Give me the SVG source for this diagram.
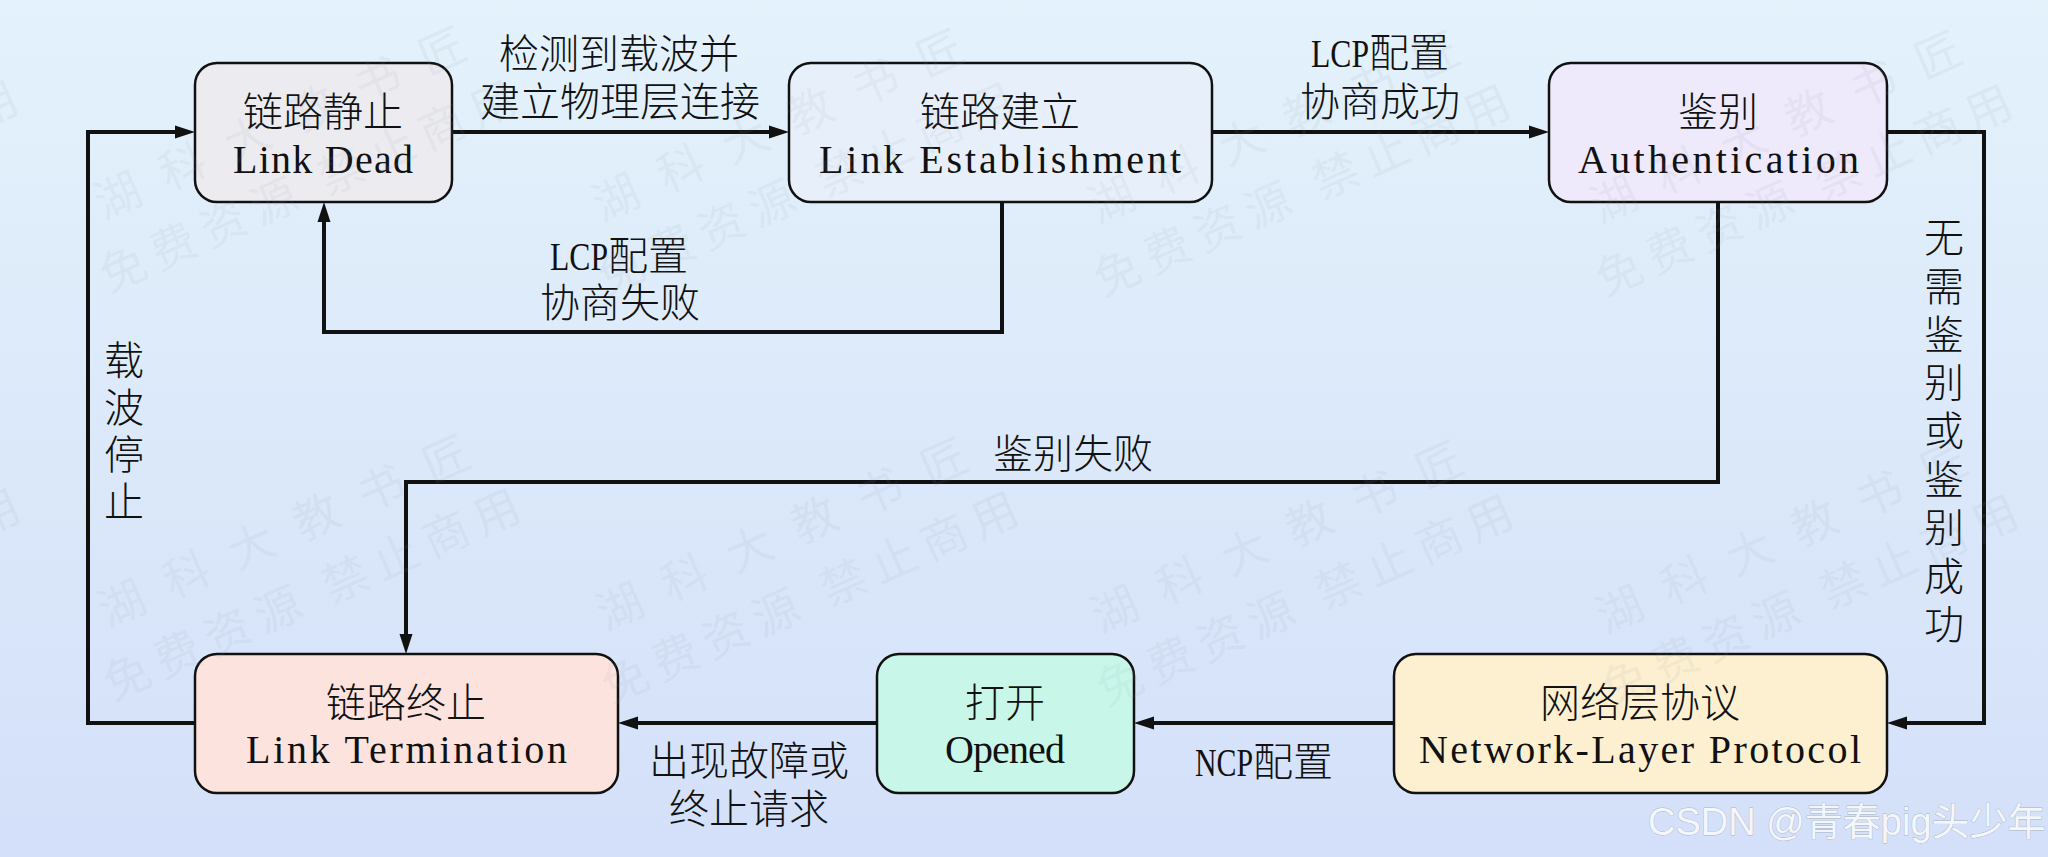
<svg xmlns="http://www.w3.org/2000/svg" xmlns:xlink="http://www.w3.org/1999/xlink" width="2048" height="857" viewBox="0 0 2048 857">
  <defs>
    <linearGradient id="bg" x1="0" y1="0" x2="0" y2="1">
      <stop offset="0" stop-color="#e3f2fb"/>
      <stop offset="1" stop-color="#d4e0f9"/>
    </linearGradient>
    <marker id="arr" markerWidth="20" markerHeight="14" refX="10" refY="7" orient="auto" markerUnits="userSpaceOnUse" viewBox="0 0 20 14">
      <path d="M0,0.5 L20,7 L0,13.5 Z" fill="#111"/>
    </marker>
    <g id="wmark" transform="rotate(-24)">
      <text class="wm" x="-23" y="16" letter-spacing="25">湖科大教书匠</text>
      <text class="wm" x="-48" y="85" letter-spacing="9">免费资源 禁止商用</text>
    </g>
  </defs>
  <style>
    .node rect { stroke: #111; stroke-width: 2.5; }
    .cn { font-family: "Noto Sans CJK SC", "Noto Sans", sans-serif; font-size: 40px; font-weight: 300; fill: #111; }
    .en { font-family: "Liberation Serif", "DejaVu Serif", serif; font-size: 40px; fill: #111; }
    .edge { fill: none; stroke: #111; stroke-width: 4; stroke-linejoin: miter; }
    .wm { font-family: "Noto Sans CJK SC", sans-serif; font-size: 46px; fill: #8f9aa8; fill-opacity: 0.11; }
    .csdn { font-family: "Liberation Sans", "Noto Sans CJK SC", sans-serif; font-size: 38px; fill: #f3f6fb; stroke: #a9b3c2; stroke-width: 0.8; paint-order: stroke; }
  </style>

  <rect x="0" y="0" width="2048" height="857" fill="url(#bg)"/>

  <g id="connectors">
    <path class="edge" d="M452,132 H779" marker-end="url(#arr)"/>
    <path class="edge" d="M1212,132 H1539" marker-end="url(#arr)"/>
    <path class="edge" d="M1002,202 V332 H324 V212" marker-end="url(#arr)"/>
    <path class="edge" d="M1887,132 H1984 V723 H1897" marker-end="url(#arr)"/>
    <path class="edge" d="M1718,202 V482 H406 V644" marker-end="url(#arr)"/>
    <path class="edge" d="M1394,723 H1144" marker-end="url(#arr)"/>
    <path class="edge" d="M877,723 H628" marker-end="url(#arr)"/>
    <path class="edge" d="M195,723 H88 V132 H185" marker-end="url(#arr)"/>
  </g>

  <g id="edge-labels">
    <text class="cn" x="619" y="68" text-anchor="middle">检测到载波并</text>
    <text class="cn" x="620" y="116" text-anchor="middle">建立物理层连接</text>

    <text class="en" x="1311" y="67" textLength="58" lengthAdjust="spacingAndGlyphs" font-size="44">LCP</text>
    <text class="cn" x="1369" y="67">配置</text>
    <text class="cn" x="1380" y="116" text-anchor="middle">协商成功</text>

    <text class="en" x="550" y="270" textLength="58" lengthAdjust="spacingAndGlyphs" font-size="44">LCP</text>
    <text class="cn" x="608" y="270">配置</text>
    <text class="cn" x="620" y="317" text-anchor="middle">协商失败</text>

    <text class="cn" x="1073" y="468" text-anchor="middle">鉴别失败</text>

    <text class="cn" text-anchor="middle"><tspan x="124" y="375">载</tspan><tspan x="124" y="422">波</tspan><tspan x="124" y="469">停</tspan><tspan x="124" y="516">止</tspan></text>

    <text class="cn" text-anchor="middle"><tspan x="1944" y="252">无</tspan><tspan x="1944" y="301">需</tspan><tspan x="1944" y="349">鉴</tspan><tspan x="1944" y="397">别</tspan><tspan x="1944" y="445">或</tspan><tspan x="1944" y="494">鉴</tspan><tspan x="1944" y="542">别</tspan><tspan x="1944" y="591">成</tspan><tspan x="1944" y="639">功</tspan></text>

    <text class="cn" x="749" y="775" text-anchor="middle">出现故障或</text>
    <text class="cn" x="749" y="823" text-anchor="middle">终止请求</text>

    <text class="en" x="1195" y="776" textLength="58" lengthAdjust="spacingAndGlyphs" font-size="44">NCP</text>
    <text class="cn" x="1253" y="776">配置</text>
  </g>

  <g id="node-link-dead" class="node">
    <rect x="195" y="63" width="257" height="139" rx="22" fill="#ececf0"/>
    <text class="cn" x="323" y="126" text-anchor="middle">链路静止</text>
    <text class="en" x="233" y="173" textLength="180" lengthAdjust="spacing">Link Dead</text>
  </g>

  <g id="node-link-establishment" class="node">
    <rect x="789" y="63" width="423" height="139" rx="22" fill="#e7f0fa"/>
    <text class="cn" x="1000" y="126" text-anchor="middle">链路建立</text>
    <text class="en" x="819" y="173" textLength="362" lengthAdjust="spacing">Link Establishment</text>
  </g>

  <g id="node-authentication" class="node">
    <rect x="1549" y="63" width="338" height="139" rx="22" fill="#eee9fb"/>
    <text class="cn" x="1718" y="126" text-anchor="middle">鉴别</text>
    <text class="en" x="1578" y="173" textLength="281" lengthAdjust="spacing">Authentication</text>
  </g>

  <g id="node-link-termination" class="node">
    <rect x="195" y="654" width="423" height="139" rx="22" fill="#fde3de"/>
    <text class="cn" x="406" y="717" text-anchor="middle">链路终止</text>
    <text class="en" x="246" y="763" textLength="321" lengthAdjust="spacing">Link Termination</text>
  </g>

  <g id="node-opened" class="node">
    <rect x="877" y="654" width="257" height="139" rx="22" fill="#c8f7ea"/>
    <text class="cn" x="1005" y="717" text-anchor="middle">打开</text>
    <text class="en" x="945" y="763" textLength="120" lengthAdjust="spacing">Opened</text>
  </g>

  <g id="node-network-layer" class="node">
    <rect x="1394" y="654" width="493" height="139" rx="22" fill="#fdf0d1"/>
    <text class="cn" x="1640" y="717" text-anchor="middle">网络层协议</text>
    <text class="en" x="1419" y="763" textLength="442" lengthAdjust="spacing">Network-Layer Protocol</text>
  </g>

  <g id="watermark">
    <use xlink:href="#wmark" transform="translate(-380,196)"/>
    <use xlink:href="#wmark" transform="translate(118,196)"/>
    <use xlink:href="#wmark" transform="translate(616,198)"/>
    <use xlink:href="#wmark" transform="translate(1112,200)"/>
    <use xlink:href="#wmark" transform="translate(1614,200)"/>
    <use xlink:href="#wmark" transform="translate(-378,604)"/>
    <use xlink:href="#wmark" transform="translate(122,604)"/>
    <use xlink:href="#wmark" transform="translate(620,607)"/>
    <use xlink:href="#wmark" transform="translate(1115,610)"/>
    <use xlink:href="#wmark" transform="translate(1620,610)"/>
    <text class="csdn" x="1648" y="835">CSDN @青春pig头少年</text>
  </g>
</svg>
